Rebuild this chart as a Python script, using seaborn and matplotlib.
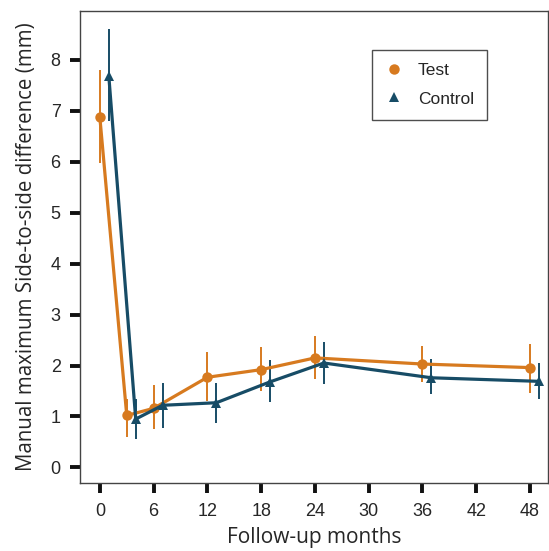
import pandas as pd
import matplotlib
matplotlib.use("Agg")
import matplotlib.pyplot as plt
import seaborn as sns

# months (control drawn 1 month to the right, as in the source figure)
test_x = [0, 3, 6, 12, 18, 24, 36, 48]
test_y = [6.87, 1.02, 1.16, 1.77, 1.92, 2.15, 2.03, 1.96]
test_lo = [5.97, 0.60, 0.75, 1.30, 1.50, 1.73, 1.67, 1.47]
test_hi = [7.80, 1.35, 1.61, 2.26, 2.36, 2.59, 2.38, 2.42]

ctrl_x = [1, 4, 7, 13, 19, 25, 37, 49]
ctrl_y = [7.68, 0.95, 1.22, 1.27, 1.68, 2.05, 1.76, 1.69]
ctrl_lo = [6.80, 0.55, 0.77, 0.88, 1.28, 1.63, 1.44, 1.34]
ctrl_hi = [8.60, 1.35, 1.65, 1.65, 2.10, 2.46, 2.12, 2.06]

x_ticks = [0, 6, 12, 18, 24, 30, 36, 42, 48]
y_ticks = [0, 1, 2, 3, 4, 5, 6, 7, 8]

orange = "#D77A1F"
navy = "#174C66"

df = pd.concat([
    pd.DataFrame({"month": test_x, "diff": test_y, "lo": test_lo, "hi": test_hi, "group": "Test"}),
    pd.DataFrame({"month": ctrl_x, "diff": ctrl_y, "lo": ctrl_lo, "hi": ctrl_hi, "group": "Control"}),
])

sns.set_style("white")
plt.rcParams['font.family'] = ['Liberation Sans', 'DejaVu Sans']

fig = plt.figure(figsize=(5.49, 5.51), dpi=100)
ax = fig.add_axes([0.146, 0.123, 0.852, 0.857])

for name, col, mk in [("Test", orange, "o"), ("Control", navy, "^")]:
    d = df[df["group"] == name]
    ax.errorbar(d["month"], d["diff"],
                yerr=[d["diff"] - d["lo"], d["hi"] - d["diff"]],
                fmt="none", ecolor=col, elinewidth=1.4, capsize=0, zorder=2)
    sns.lineplot(data=d, x="month", y="diff", color=col, marker=mk,
                 markersize=7.5, markeredgewidth=0, linewidth=2.3, ax=ax,
                 label=name, zorder=3)

ax.set_xlim(-2.2, 50)
ax.set_ylim(-0.31, 8.96)
ax.set_xticks(x_ticks)
ax.set_yticks(y_ticks)
ax.tick_params(axis="both", direction="out", length=7, width=2.8,
               color="#111111", labelsize=13, pad=7, left=True, bottom=True)

for s in ax.spines.values():
    s.set_color("#444444")
    s.set_linewidth(1.0)

ax.set_xlabel("Follow-up months", fontsize=15, family=["Open Sans", "DejaVu Sans"],
              labelpad=5)
ax.set_ylabel("Manual maximum Side-to-side difference (mm)", fontsize=14.8,
              family=["Open Sans", "DejaVu Sans"], labelpad=10)

leg = ax.legend(loc="upper left", bbox_to_anchor=(0.624, 0.917), frameon=True,
                borderaxespad=0, fontsize=12.5, handlelength=1.0,
                handletextpad=0.9, borderpad=0.75, labelspacing=0.75,
                fancybox=False)
leg.get_frame().set_edgecolor("#222222")
leg.get_frame().set_linewidth(1.0)
for h in leg.get_lines():
    h.set_linestyle("none")

fig.savefig("out.png", dpi=100)
